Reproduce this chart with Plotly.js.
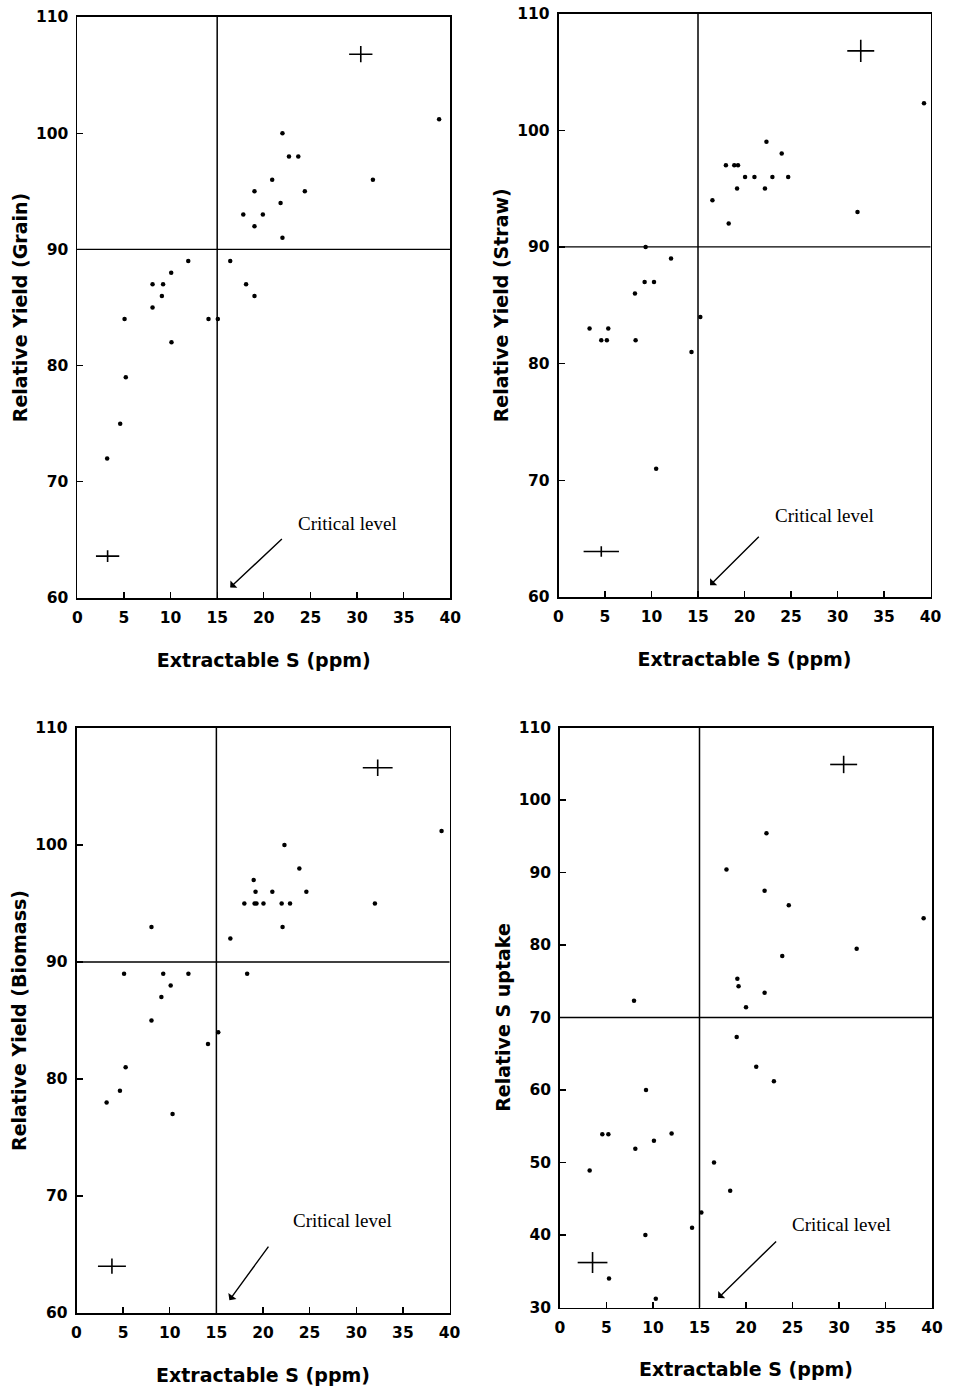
<!DOCTYPE html>
<html>
<head>
<meta charset="utf-8">
<script src="https://cdn.plot.ly/plotly-3.0.1.min.js"></script>
<style>html,body{margin:0;padding:0;background:#fff}#chart{width:962px;height:1389px}</style>
</head>
<body>
<div id="chart"></div>
<script>
// ---- data ----
const grainX = [3.2, 4.6, 5.07, 5.2, 8.07, 8.07, 9.07, 9.2, 10.07, 10.1, 11.9, 14.07, 15.07, 16.4, 17.8, 18.1, 19.0, 19.0, 19.0, 19.9, 20.9, 21.8, 22.0, 22.0, 22.7, 23.7, 24.4, 31.7, 38.8];
const grainY = [72, 75, 84, 79, 87, 85, 86, 87, 88, 82, 89, 84, 84, 89, 93, 87, 95, 92, 86, 93, 96, 94, 100, 91, 98, 98, 95, 96, 101.2];

const strawX = [3.34, 4.6, 5.2, 5.35, 8.22, 8.29, 9.26, 9.37, 10.27, 10.5, 12.1, 14.3, 15.25, 16.55, 18.0, 18.3, 18.9, 19.3, 19.2, 20.06, 21.07, 22.2, 22.36, 23.0, 24.0, 24.7, 32.15, 39.3];
const strawY = [83, 82, 82, 83, 86, 82, 87, 90, 87, 71, 89, 81, 84, 94, 97, 92, 97, 97, 95, 96, 96, 95, 99, 96, 98, 96, 93, 102.3];

const biomassX = [3.23, 4.66, 5.1, 5.27, 8.04, 8.04, 9.1, 9.3, 10.1, 10.3, 12.0, 14.1, 15.2, 16.5, 18.0, 18.3, 19.0, 19.1, 19.3, 19.2, 20.05, 21.0, 22.0, 22.1, 22.3, 22.9, 23.9, 24.65, 32.0, 39.15];
const biomassY = [78, 79, 89, 81, 93, 85, 87, 89, 88, 77, 89, 83, 84, 92, 95, 89, 97, 95, 95, 96, 95, 96, 95, 93, 100, 95, 98, 96, 95, 101.2];

const uptakeX = [3.19, 4.55, 5.2, 5.27, 7.96, 8.1, 9.18, 9.25, 10.1, 10.3, 12.0, 14.2, 15.2, 16.56, 17.9, 18.3, 19.0, 19.07, 19.2, 20.0, 21.1, 22.0, 22.0, 22.2, 23.0, 23.9, 24.6, 31.9, 39.1];
const uptakeY = [48.9, 53.9, 53.9, 34.0, 72.3, 51.9, 40.0, 60.0, 53.0, 31.2, 54.0, 41.0, 43.1, 50.0, 90.4, 46.1, 67.3, 75.35, 74.3, 71.4, 63.2, 73.4, 87.5, 95.4, 61.2, 78.5, 85.5, 79.5, 83.7];

// error crosses (centre and half-widths) per panel: [lower-left, upper-right]
const grainCrossX = [3.25, 30.4], grainCrossY = [63.6, 106.8], grainCrossEX = [1.25, 1.25], grainCrossEY = [0.5, 0.7];
const strawCrossX = [4.6, 32.5], strawCrossY = [63.9, 106.8], strawCrossEX = [1.9, 1.45], strawCrossEY = [0.45, 0.95];
const biomassCrossX = [3.8, 32.3], biomassCrossY = [64.0, 106.6], biomassCrossEX = [1.5, 1.6], biomassCrossEY = [0.65, 0.7];
const uptakeCrossX = [3.5, 30.5], uptakeCrossY = [36.2, 104.9], uptakeCrossEX = [1.6, 1.45], uptakeCrossEY = [1.45, 1.2];

const criticalS = 15;
const yieldThreshold = [90, 90, 90, 70];

const xTickVals = [0, 5, 10, 15, 20, 25, 30, 35, 40];
const yTitles = ['Relative Yield (Grain)', 'Relative Yield (Straw)', 'Relative Yield (Biomass)', 'Relative S uptake'];
const xTitle = 'Extractable S (ppm)';
const yRanges = [[60, 110], [60, 110], [60, 110], [30, 110]];
const annText = 'Critical level';

// ---- build ----
const sets = [
  [grainX, grainY, grainCrossX, grainCrossY, grainCrossEX, grainCrossEY],
  [strawX, strawY, strawCrossX, strawCrossY, strawCrossEX, strawCrossEY],
  [biomassX, biomassY, biomassCrossX, biomassCrossY, biomassCrossEX, biomassCrossEY],
  [uptakeX, uptakeY, uptakeCrossX, uptakeCrossY, uptakeCrossEX, uptakeCrossEY]
];

const W = 962, H = 1389;
// pixel boxes [x0, x1, yTop, yBottom]
const boxes = [
  [77.3, 450.3, 17, 598],
  [558.5, 930.5, 13.5, 597],
  [76.5, 449.5, 728, 1313],
  [560, 932, 727.5, 1307.5]
];

const traces = [];
const layout = {
  width: W, height: H,
  margin: {l: 0, r: 0, t: 0, b: 0},
  paper_bgcolor: '#fff', plot_bgcolor: '#fff',
  showlegend: false,
  shapes: [], annotations: []
};

const tickFont = {family: 'DejaVu Sans', size: 15.5, color: '#000', weight: 700};
const titleFont = {family: 'DejaVu Sans', size: 19, color: '#000', weight: 700};

// annotation positions in data units: text centre, arrow head, arrow tail
const annPos = [
  {tx: 29.0, ty: 66.4, hx: 16.4, hy: 60.9, ax: 22.1, ay: 65.2},
  {tx: 28.6, ty: 67.0, hx: 16.3, hy: 61.0, ax: 21.7, ay: 65.3},
  {tx: 28.5, ty: 67.9, hx: 16.4, hy: 61.1, ax: 20.7, ay: 65.8},
  {tx: 30.3, ty: 41.4, hx: 17.0, hy: 31.3, ax: 23.4, ay: 39.3}
];

sets.forEach((s, i) => {
  const n = i === 0 ? '' : String(i + 1);
  const xa = 'x' + n, ya = 'y' + n;
  const b = boxes[i];
  traces.push({
    type: 'scatter', mode: 'markers', x: s[0], y: s[1], xaxis: xa, yaxis: ya,
    marker: {color: '#000', size: 4.5}, hoverinfo: 'x+y'
  });
  traces.push({
    type: 'scatter', mode: 'markers', x: s[2], y: s[3], xaxis: xa, yaxis: ya,
    marker: {color: '#000', size: 1},
    error_x: {type: 'data', array: s[4], visible: true, color: '#000', thickness: 1.6, width: 0},
    error_y: {type: 'data', array: s[5], visible: true, color: '#000', thickness: 1.6, width: 0},
    hoverinfo: 'skip'
  });
  layout['xaxis' + n] = {
    domain: [b[0] / W, b[1] / W], anchor: ya,
    range: [0, 40], tickvals: xTickVals, ticks: 'inside', ticklen: 6, tickwidth: 1.3, tickcolor: '#000',
    showline: true, linewidth: 1.8, linecolor: '#000', mirror: true,
    showgrid: false, zeroline: false, tickfont: tickFont, ticklabelstandoff: 5,
    title: {text: xTitle, font: titleFont, standoff: 27}
  };
  const yr = yRanges[i];
  const yt = [];
  for (let v = yr[0]; v <= yr[1]; v += 10) yt.push(v);
  layout['yaxis' + n] = {
    domain: [1 - b[3] / H, 1 - b[2] / H], anchor: xa,
    range: yr, tickvals: yt, ticks: 'inside', ticklen: 6, tickwidth: 1.3, tickcolor: '#000',
    showline: true, linewidth: 1.8, linecolor: '#000', mirror: true,
    showgrid: false, zeroline: false, tickfont: tickFont, ticklabelstandoff: 4,
    title: {text: yTitles[i], font: titleFont, standoff: 3}
  };
  layout.shapes.push({type: 'line', xref: xa, yref: ya + ' domain', x0: criticalS, x1: criticalS, y0: 0, y1: 1, line: {color: '#000', width: 1.5}});
  layout.shapes.push({type: 'line', xref: xa + ' domain', yref: ya, x0: 0, x1: 1, y0: yieldThreshold[i], y1: yieldThreshold[i], line: {color: '#000', width: 1.3}});
  const a = annPos[i];
  layout.annotations.push({
    xref: xa, yref: ya, x: a.tx, y: a.ty, text: annText, showarrow: false,
    font: {family: 'Liberation Serif', size: 19, color: '#000'}
  });
  layout.annotations.push({
    xref: xa, yref: ya, x: a.hx, y: a.hy, axref: xa, ayref: ya, ax: a.ax, ay: a.ay,
    text: '', showarrow: true, arrowhead: 1, arrowsize: 1.2, arrowwidth: 1.4, arrowcolor: '#000'
  });
});

Plotly.newPlot('chart', traces, layout, {displayModeBar: false, staticPlot: true});
</script>
</body>
</html>
